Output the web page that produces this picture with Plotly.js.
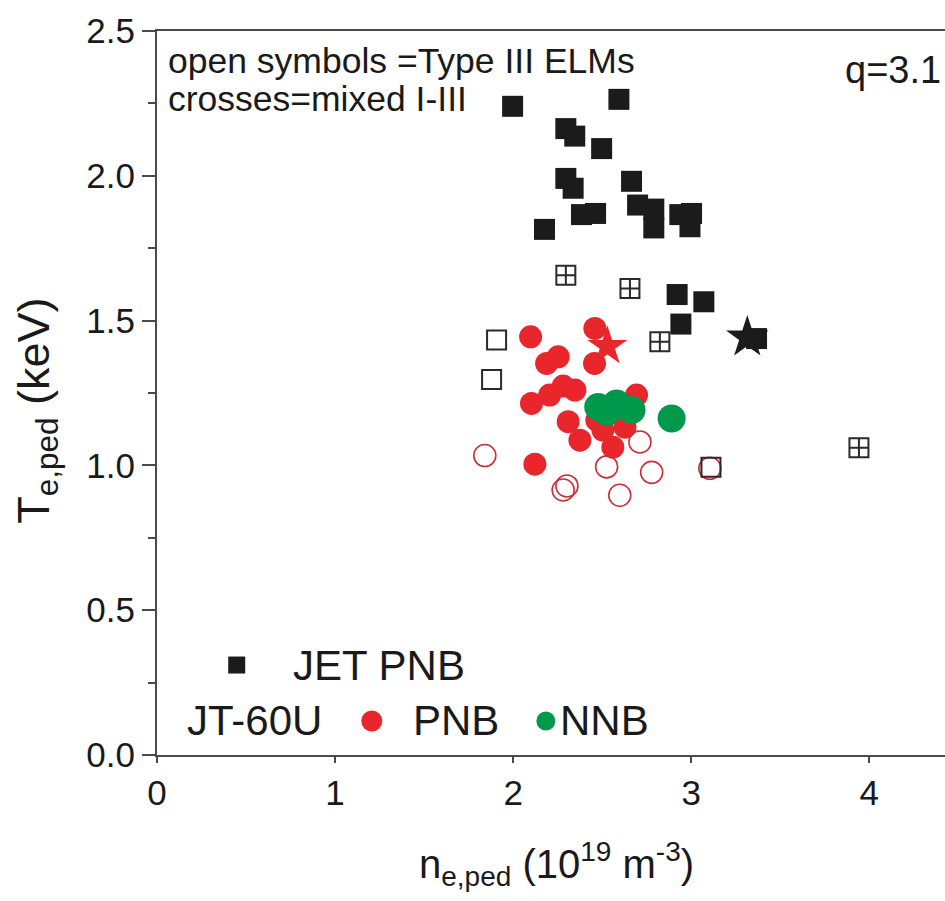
<!DOCTYPE html>
<html>
<head>
<meta charset="utf-8">
<script src="https://cdn.plot.ly/plotly-3.0.1.min.js"></script>
<style>
  html, body { margin: 0; padding: 0; background: #ffffff; }
  #chart { width: 945px; height: 901px; }
</style>
</head>
<body>
<div id="chart"></div>
<script>
// Pedestal electron temperature vs pedestal density, JET and JT-60U (q = 3.1)

// JET PNB, Type I ELMs (filled squares)
const jetX = [1.997, 2.594, 2.296, 2.346, 2.497, 2.296, 2.337, 2.665, 2.384, 2.463, 2.176,
              2.699, 2.790, 2.790, 2.936, 3.002, 2.993, 2.921, 3.071, 2.942, 3.367];
const jetY = [2.240, 2.264, 2.163, 2.137, 2.094, 1.991, 1.957, 1.981, 1.866, 1.870, 1.815,
              1.899, 1.885, 1.820, 1.866, 1.870, 1.824, 1.590, 1.565, 1.488, 1.438];
// JET reference discharge (star)
const jetStarX = [3.315];
const jetStarY = [1.442];
// JET mixed Type I-III ELMs (crossed squares)
const jetMixedX = [2.296, 2.656, 2.824, 3.942];
const jetMixedY = [1.657, 1.611, 1.427, 1.061];
// JET Type III ELMs (open squares)
const jetType3X = [1.907, 1.879, 3.111];
const jetType3Y = [1.433, 1.297, 0.994];

// JT-60U PNB, Type I ELMs (filled red circles)
const pnbX = [2.098, 2.459, 2.457, 2.253, 2.188, 2.281, 2.347, 2.205, 2.103, 2.309,
              2.375, 2.693, 2.122, 2.470, 2.504, 2.628, 2.560];
const pnbY = [1.444, 1.473, 1.352, 1.375, 1.352, 1.274, 1.260, 1.243, 1.214, 1.151,
              1.087, 1.243, 1.004, 1.156, 1.122, 1.132, 1.063];
// JT-60U reference discharge (red star)
const pnbStarX = [2.529];
const pnbStarY = [1.411];
// JT-60U PNB, Type III ELMs (open red circles)
const pnbType3X = [1.841, 2.281, 2.302, 2.525, 2.712, 2.778, 2.599, 3.105];
const pnbType3Y = [1.034, 0.915, 0.929, 0.995, 1.081, 0.976, 0.897, 0.990];
// JT-60U NNB (filled green circles)
const nnbX = [2.478, 2.526, 2.581, 2.665, 2.890];
const nnbY = [1.202, 1.184, 1.214, 1.191, 1.162];

// Axis ticks
const xTicks = [0, 1, 2, 3, 4];
const yTicks = [0.0, 0.5, 1.0, 1.5, 2.0, 2.5];
const yTickText = ['0.0', '0.5', '1.0', '1.5', '2.0', '2.5'];

const FONT = 'Liberation Sans, Arial, Helvetica, sans-serif';
const RED = '#e8262b';
const GREEN = '#00994c';
const BLACK = '#1b1b1b';
const AXIS = '#4a4a4a';

const traces = [
  { x: pnbX, y: pnbY, type: 'scatter', mode: 'markers', name: 'JT-60U PNB',
    marker: { symbol: 'circle', size: 23, color: RED, line: { width: 0 } } },
  { x: pnbStarX, y: pnbStarY, type: 'scatter', mode: 'markers', name: 'JT-60U PNB reference',
    marker: { symbol: 'star', size: 30, color: RED, line: { width: 0 } } },
  { x: nnbX, y: nnbY, type: 'scatter', mode: 'markers', name: 'JT-60U NNB',
    marker: { symbol: 'circle', size: 28, color: GREEN, line: { width: 0 } } },
  { x: pnbType3X, y: pnbType3Y, type: 'scatter', mode: 'markers', name: 'JT-60U PNB Type III',
    marker: { symbol: 'circle-open', size: 22, color: '#c8303a', line: { width: 1.6, color: '#c8303a' } } },
  { x: jetType3X, y: jetType3Y, type: 'scatter', mode: 'markers', name: 'JET PNB Type III',
    marker: { symbol: 'square-open', size: 19, color: '#2a2a2a', line: { width: 2, color: '#2a2a2a' } } },
  { x: jetMixedX, y: jetMixedY, type: 'scatter', mode: 'markers', name: 'JET PNB mixed I-III',
    marker: { symbol: 'square-cross-open', size: 19, color: '#2a2a2a', line: { width: 2, color: '#2a2a2a' } } },
  { x: jetX, y: jetY, type: 'scatter', mode: 'markers', name: 'JET PNB',
    marker: { symbol: 'square', size: 21, color: BLACK, line: { width: 0 } } },
  { x: jetStarX, y: jetStarY, type: 'scatter', mode: 'markers', name: 'JET PNB reference',
    marker: { symbol: 'star', size: 32, color: BLACK, line: { width: 0 } } }
];

// Plot-area pixel helpers for placing annotations/legend glyphs in paper units
const PL = 157.3, PR = 945, PT = 30.7, PB = 755;
const px = v => (v - PL) / (PR - PL);
const py = v => (PB - v) / (PB - PT);
const X_RANGE = [0, (PR - PL) / 178];

const textFont = (size) => ({ family: FONT, size: size, color: '#1a1a1a' });

const annotations = [
  { text: 'open symbols =Type III ELMs', xref: 'paper', yref: 'paper', x: px(166), y: py(61),
    xanchor: 'left', yanchor: 'middle', showarrow: false, font: textFont(35.5) },
  { text: 'crosses=mixed I-III', xref: 'paper', yref: 'paper', x: px(166), y: py(99),
    xanchor: 'left', yanchor: 'middle', showarrow: false, font: textFont(35.5) },
  { text: 'q=3.1', xref: 'paper', yref: 'paper', x: px(943), y: py(70),
    xanchor: 'right', yanchor: 'middle', showarrow: false, font: textFont(38) },
  { text: 'JET PNB', xref: 'paper', yref: 'paper', x: px(291), y: py(665),
    xanchor: 'left', yanchor: 'middle', showarrow: false, font: textFont(42) },
  { text: 'JT-60U', xref: 'paper', yref: 'paper', x: px(185), y: py(720),
    xanchor: 'left', yanchor: 'middle', showarrow: false, font: textFont(42) },
  { text: 'PNB', xref: 'paper', yref: 'paper', x: px(411), y: py(720),
    xanchor: 'left', yanchor: 'middle', showarrow: false, font: textFont(42) },
  { text: 'NNB', xref: 'paper', yref: 'paper', x: px(558), y: py(720),
    xanchor: 'left', yanchor: 'middle', showarrow: false, font: textFont(42) },
  // axis titles
  { text: 'n<sub>e,ped</sub> (10<sup>19</sup> m<sup>-3</sup>)', xref: 'paper', yref: 'paper',
    x: px(557), y: py(864), xanchor: 'center', yanchor: 'middle', showarrow: false, font: textFont(40) },
  { text: 'T<sub>e,ped</sub> (keV)', xref: 'paper', yref: 'paper', x: px(36), y: py(411),
    xanchor: 'center', yanchor: 'middle', textangle: -90, showarrow: false, font: textFont(45) }
];

// Legend glyphs drawn as pixel-sized shapes
const glyph = (type, cx, cy, w, color) => ({
  type: type, xref: 'paper', yref: 'paper', xsizemode: 'pixel', ysizemode: 'pixel',
  xanchor: px(cx), yanchor: py(cy), x0: -w / 2, x1: w / 2, y0: -w / 2, y1: w / 2,
  fillcolor: color, line: { width: 0 }
});
const shapes = [
  glyph('rect', 237, 665, 17, BLACK),
  glyph('circle', 372, 721, 21, RED),
  glyph('circle', 546, 721, 19, GREEN)
];

const axisCommon = {
  showgrid: false, zeroline: false, showline: true, linecolor: AXIS, linewidth: 2,
  mirror: true, ticks: 'outside', tickcolor: AXIS, tickwidth: 2, ticklen: 13,
  tickfont: { family: FONT, size: 35, color: '#1a1a1a' }
};

const layout = {
  width: 945, height: 901,
  margin: { l: PL, r: 0, t: PT, b: 901 - PB, pad: 0 },
  paper_bgcolor: '#ffffff', plot_bgcolor: '#ffffff',
  showlegend: false,
  font: { family: FONT, color: '#1a1a1a' },
  // labelled x axis: short ticks keep the numbers close to the frame
  xaxis: Object.assign({}, axisCommon, {
    range: X_RANGE, ticklen: 6,
    tickmode: 'array', tickvals: xTicks, ticktext: xTicks.map(String)
  }),
  // companion x axis carrying the full-length major and minor ticks
  xaxis2: {
    overlaying: 'x', anchor: 'y', side: 'bottom', range: X_RANGE,
    showgrid: false, zeroline: false, showline: false, showticklabels: false,
    ticks: 'outside', tickcolor: AXIS, tickwidth: 2, ticklen: 13,
    tickmode: 'array', tickvals: xTicks,
    minor: { dtick: 0.5, ticks: 'outside', ticklen: 7, tickwidth: 2, tickcolor: AXIS }
  },
  yaxis: Object.assign({}, axisCommon, {
    range: [0, 2.5],
    tickmode: 'array', tickvals: yTicks, ticktext: yTickText,
    minor: { dtick: 0.25, ticks: 'outside', ticklen: 7, tickwidth: 2, tickcolor: AXIS }
  }),
  annotations: annotations,
  shapes: shapes
};

Plotly.newPlot('chart', traces, layout, { displayModeBar: false, staticPlot: true });
</script>
</body>
</html>
